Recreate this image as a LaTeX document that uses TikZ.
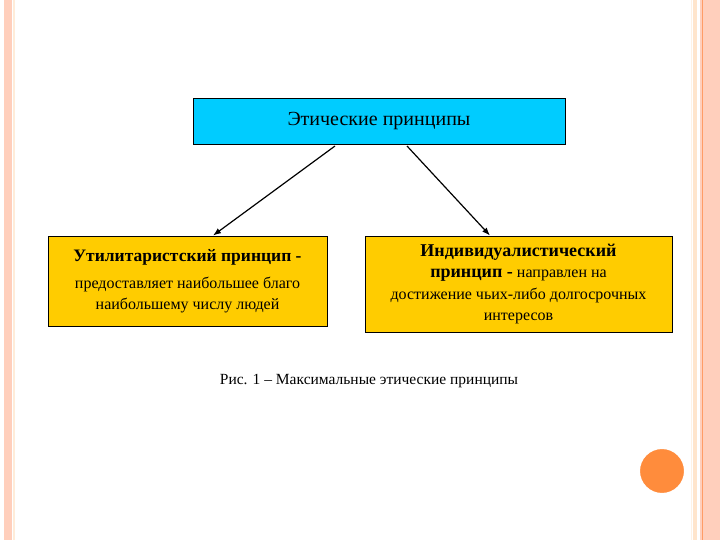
\documentclass[tikz,border=0pt]{standalone}
\usepackage{fontspec}
\setmainfont{Liberation Serif}
\usetikzlibrary{arrows.meta}
\begin{document}
\begin{tikzpicture}[x=1pt,y=-1pt,
  box/.style={draw=black,line width=0.9pt,inner sep=0pt,align=center},
  arr/.style={-{Latex[length=8pt,width=6pt]},line width=1.2pt}]
\useasboundingbox (0,0) rectangle (720,540);
\fill[white] (0,0) rectangle (720,540);
\fill[orange!25!pink!60] (4,0) rectangle (12,540);
\fill[orange!15] (13,0) rectangle (15,540);
\draw[orange!10,line width=0.8pt] (691,0) -- (691,540);
\fill[orange!20] (693,0) rectangle (697,540);
\fill[orange!25!pink!60] (700,0) rectangle (720,540);
\draw[orange!70!red!60,line width=1pt] (702,0) -- (702,540);
\node[box,fill={rgb,255:red,0;green,204;blue,255},minimum width=372pt,minimum height=46pt,font=\fontsize{20}{24}\selectfont] (top) at (379,121) {Этические принципы};
\node[box,fill={rgb,255:red,255;green,204;blue,0},minimum width=279pt,minimum height=90pt,font=\fontsize{16}{21}\selectfont] (left) at (187.5,281) {\textbf{\fontsize{17.5}{21}\selectfont Утилитаристский принцип -}\\[6pt]предоставляет наибольшее благо\\наибольшему числу людей};
\node[box,fill={rgb,255:red,255;green,204;blue,0},minimum width=307pt,minimum height=96pt,font=\fontsize{16}{21.5}\selectfont] (right) at (518.5,284) {\textbf{\fontsize{18}{21.5}\selectfont Индивидуалистический}\\\textbf{\fontsize{18}{21.5}\selectfont принцип -} направлен на\\достижение чьих-либо долгосрочных\\интересов};
\coordinate (a1) at (335,146);
\coordinate (a2) at (407,146);
\draw[arr] (a1) -- (left.north -| 213,0);
\draw[arr] (a2) -- (right.north -| 490,0);
\node[font=\fontsize{15.5}{18}\selectfont] (cap) at (369,381) {Рис. 1 – Максимальные этические принципы};
\node[circle,fill={rgb,255:red,255;green,140;blue,60},draw=white,line width=2pt,minimum size=46pt] (dot) at (662,471) {};
\end{tikzpicture}
\end{document}
